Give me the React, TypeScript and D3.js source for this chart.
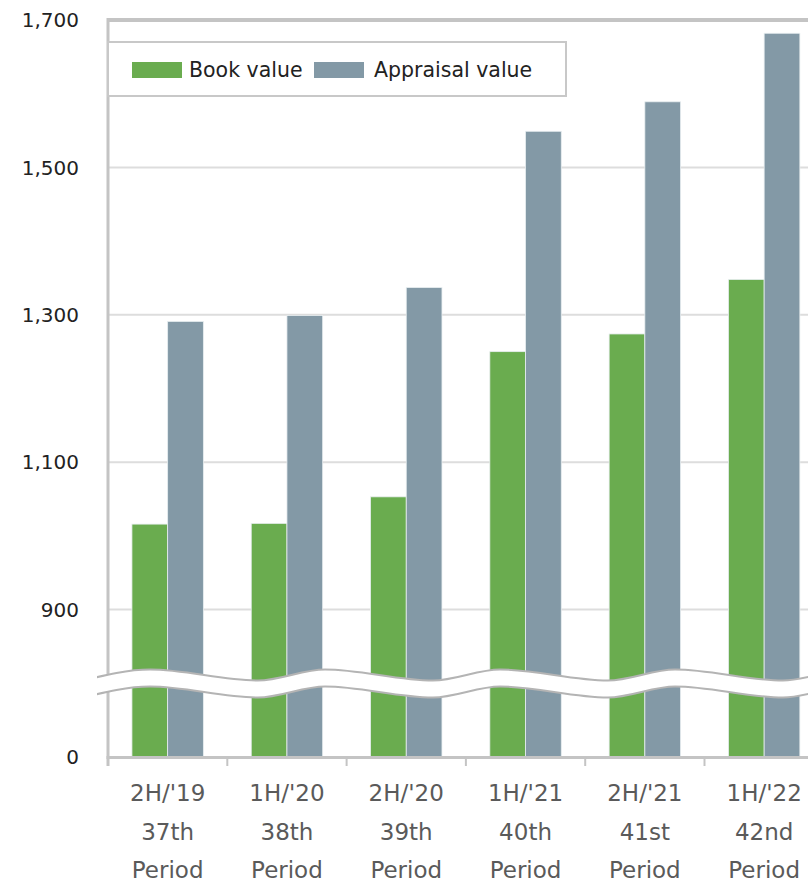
import React from "react";
import * as d3 from "d3";

const halves = ["2H/'19", "1H/'20", "2H/'20", "1H/'21", "2H/'21", "1H/'22"];
const periods = ["37th", "38th", "39th", "40th", "41st", "42nd"];
const bookValue = [1016, 1017, 1053, 1250, 1274, 1348];
const appraisalValue = [1291, 1299, 1337, 1549, 1589, 1682];
const yTicks = [0, 900, 1100, 1300, 1500, 1700];
const seriesNames = ["Book value", "Appraisal value"];
const seriesColors = ["#6aac4f", "#8399a6"];

const W = 808;
const H = 882;
const left = 108;
const step = 119.3;
const base = 757;
const top = 20;

export default function App() {
  const x = d3.scaleBand<string>().domain(halves).range([left, left + step * halves.length]).padding(0);
  const xi = d3.scaleBand<string>().domain(seriesNames).range([0, x.bandwidth()]).paddingInner(0).paddingOuter(0.67);
  const per = (base - top) / 1000;
  const y = d3.scaleLinear().domain([0, 900, 1700]).range([base, base - 200 * per, top]);

  // wave break
  const period = 175;
  const pts: [number, number][] = [];
  for (let c = 150 - period; c < W + period; c += period) {
    pts.push([c, 669.5]);
    pts.push([c + 108, 680.5]);
  }
  const gap = 17;
  const clipPts = pts.filter((p) => p[0] > 0);
  const waveArea = d3.area<[number, number]>().x((d) => d[0]).y0((d) => d[1]).y1((d) => d[1] + gap).curve(d3.curveMonotoneX);
  const waveTop = d3.line<[number, number]>().x((d) => d[0]).y((d) => d[1]).curve(d3.curveMonotoneX);
  const waveBot = d3.line<[number, number]>().x((d) => d[0]).y((d) => d[1] + gap).curve(d3.curveMonotoneX);

  const font = "'DejaVu Sans', Verdana, sans-serif";
  const values = [bookValue, appraisalValue];

  return (
    <svg width={W} height={H} style={{ position: "absolute", left: 0, top: 0, background: "#fff" }} fontFamily={font}>
      <defs>
        <clipPath id="waveclip">
          <rect x={97} y={600} width={W} height={200} />
        </clipPath>
      </defs>
      {/* gridlines */}
      {yTicks.filter((t) => t > 0 && t < 1700).map((t) => (
        <line key={t} x1={left} x2={W} y1={y(t)} y2={y(t)} stroke="#dddddd" strokeWidth={2} />
      ))}
      <line x1={left} x2={W} y1={y(1700)} y2={y(1700)} stroke="#c4c4c4" strokeWidth={4} />
      {/* bars */}
      {halves.map((h, i) => (
        <g key={h} transform={`translate(${x(h)},0)`}>
          {seriesNames.map((s, j) => (
            <rect
              key={s}
              x={xi(s)}
              y={y(values[j][i])}
              width={xi.bandwidth()}
              height={base - y(values[j][i])}
              fill={seriesColors[j]}
              stroke="#e8eef0"
              strokeWidth={0.8}
            />
          ))}
        </g>
      ))}
      {/* axes */}
      <line x1={left} x2={left} y1={top - 2} y2={766} stroke="#c4c4c4" strokeWidth={3} />
      <line x1={left - 1.5} x2={W} y1={base + 0.5} y2={base + 0.5} stroke="#c4c4c4" strokeWidth={3} />
      {d3.range(halves.length + 1).map((k) => (
        <line key={k} x1={left + k * step} x2={left + k * step} y1={base} y2={766} stroke="#c4c4c4" strokeWidth={2} />
      ))}
      {/* break */}
      <g clipPath="url(#waveclip)">
        <path d={waveArea(clipPts) || ""} fill="#fff" />
        <path d={waveTop(clipPts) || ""} fill="none" stroke="#b4b4b4" strokeWidth={2} />
        <path d={waveBot(clipPts) || ""} fill="none" stroke="#b4b4b4" strokeWidth={2} />
      </g>
      {/* y labels */}
      {yTicks.map((t) => (
        <text key={t} x={79} y={y(t)} dy="0.36em" textAnchor="end" fontSize={20} fill="#222">
          {d3.format(",")(t)}
        </text>
      ))}
      {/* x labels */}
      {halves.map((h, i) => {
        const cx = (x(h) as number) + x.bandwidth() / 2;
        return (
          <text key={h} x={cx} textAnchor="middle" fontSize={23} fill="#5a5a5a">
            <tspan x={cx} y={801}>{h}</tspan>
            <tspan x={cx} y={840}>{periods[i]}</tspan>
            <tspan x={cx} y={878}>Period</tspan>
          </text>
        );
      })}
      {/* legend */}
      <rect x={108} y={42} width={458} height={54} fill="#fff" stroke="#c8c8c8" strokeWidth={2} />
      <rect x={132} y={62} width={50} height={16} fill={seriesColors[0]} />
      <text x={189} y={77} fontSize={20.5} fill="#222">{seriesNames[0]}</text>
      <rect x={314} y={62} width={50} height={16} fill={seriesColors[1]} />
      <text x={374} y={77} fontSize={20.5} fill="#222">{seriesNames[1]}</text>
    </svg>
  );
}
